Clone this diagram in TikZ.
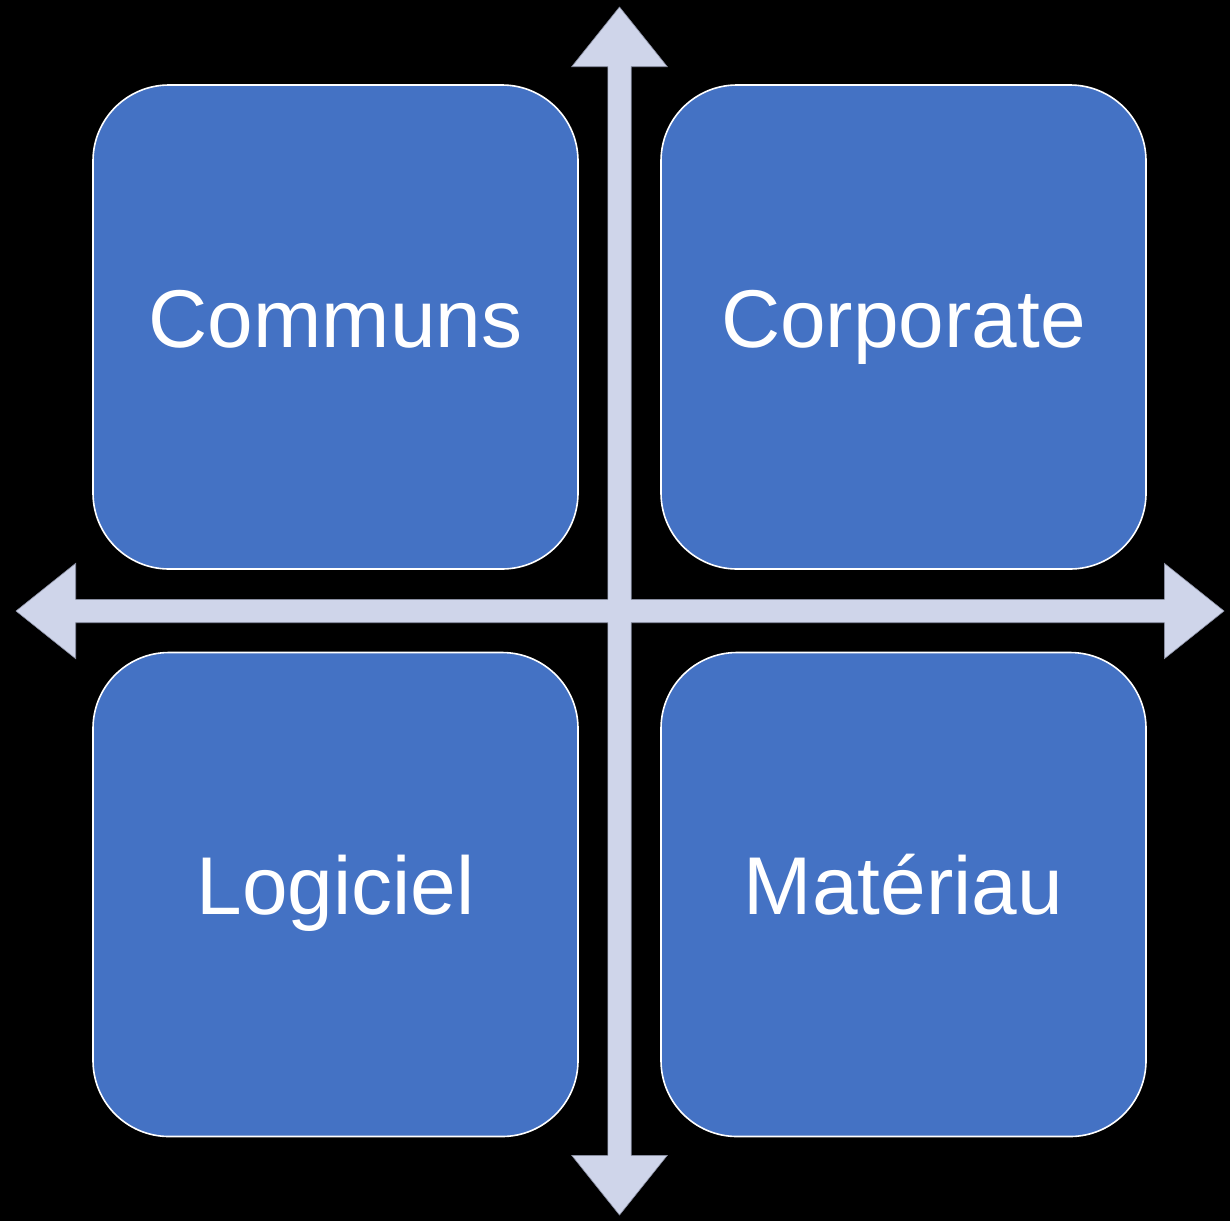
\documentclass[tikz,border=0pt]{standalone}
\usepackage{fontspec}
\setmainfont{Liberation Sans}
\definecolor{boxblue}{HTML}{4472C4}
\definecolor{crossfill}{HTML}{CFD5EA}
\definecolor{crossline}{HTML}{8A8FA3}
\begin{document}
\begin{tikzpicture}[x=1pt,y=-1pt,
  quad/.style={draw=white,line width=1.6pt,fill=boxblue,rounded corners=76pt,
    minimum width=485pt,minimum height=484pt,inner sep=0pt},
  quadtext/.style={text=white,anchor=base,inner sep=0pt,
    font=\fontsize{82}{98}\selectfont}]
\fill[black] (0,0) rectangle (1230,1221);
\useasboundingbox (0,0) rectangle (1230,1221);
% cross with four arrowheads
\filldraw[fill=crossfill,draw=crossline,line width=0.6pt,line join=miter]
  (619.5,7) -- (667.3,66.7) -- (631.2,66.7) -- (631.2,599.3) -- (1164.3,599.3)
  -- (1164.3,563.3) -- (1224,611) -- (1164.3,658.7) -- (1164.3,622.7)
  -- (631.2,622.7) -- (631.2,1155.3) -- (667.3,1155.3) -- (619.5,1215)
  -- (571.7,1155.3) -- (607.8,1155.3) -- (607.8,622.7) -- (75.7,622.7)
  -- (75.7,658.7) -- (16,611) -- (75.7,563.3) -- (75.7,599.3)
  -- (607.8,599.3) -- (607.8,66.7) -- (571.7,66.7) -- cycle;
% boxes
\node[quad] (tl) at (335.5,327) {};
\node[quad] (tr) at (903.5,327) {};
\node[quad] (bl) at (335.5,894.5) {};
\node[quad] (br) at (903.5,894.5) {};
% labels
\node[quadtext] (tlt) at (335.5,347) {Communs};
\node[quadtext] (trt) at (903.5,347) {Corporate};
\node[quadtext] (blt) at (335.5,914) {Logiciel};
\node[quadtext] (brt) at (903.5,914) {Matériau};
\end{tikzpicture}
\end{document}
